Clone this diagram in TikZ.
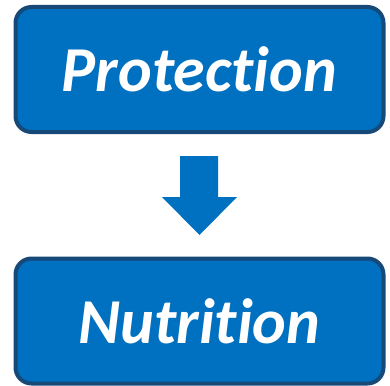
\documentclass[tikz,border=0pt]{standalone}
\usepackage{fontspec}
\setmainfont{Carlito}[Ligatures=NoCommon]
\definecolor{boxfill}{RGB}{0,112,192}
\definecolor{boxline}{RGB}{22,72,120}
\tikzset{
  stagebox/.style={draw=boxline, line width=4pt, fill=boxfill, rounded corners=16pt,
    minimum width=368pt, minimum height=125pt, inner sep=0pt,
    text=white, font=\fontsize{64}{64}\selectfont\bfseries\itshape},
  flowarrow/.style={fill=boxfill, draw=none}
}
\begin{document}
\begin{tikzpicture}[x=1pt,y=-1pt]
  \useasboundingbox (0,0) rectangle (390,385);
  \node[stagebox] (prot) at (199.5,69.5) {Protection};
  \node[stagebox] (nutr) at (199.5,321) {Nutrition};
  % block arrow between the two stages
  \path[flowarrow] (180,156) -- (218,156) -- (218,197) -- (237,197)
    -- (199.5,235) -- (162,197) -- (180,197) -- cycle;
\end{tikzpicture}
\end{document}
